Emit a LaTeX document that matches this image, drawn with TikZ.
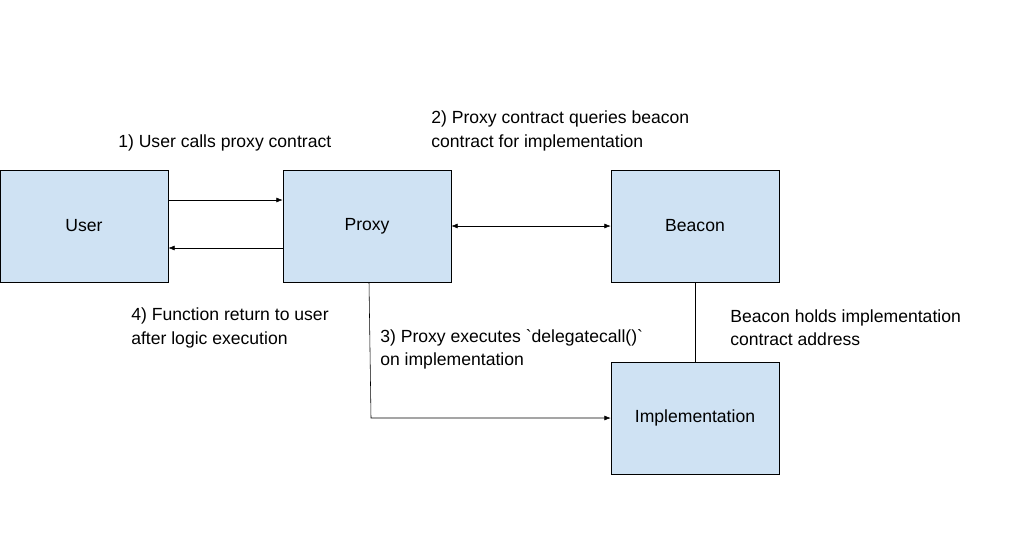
\documentclass[tikz,border=0pt]{standalone}
\usepackage{fontspec}
\setmainfont{Liberation Sans}
\usetikzlibrary{arrows.meta}
\begin{document}
\begin{tikzpicture}[x=0.025cm,y=-0.025cm,
    box/.style={draw=black, line width=0.4pt, fill=boxblue, minimum width=168*0.025cm, minimum height=112*0.025cm, font=\fontsize{12.5}{15}\selectfont},
    lbl/.style={anchor=west, align=left, inner sep=0pt, font=\fontsize{12.5}{16.5}\selectfont},
    arr/.style={-{Latex[length=4.5pt,width=3.5pt]}, line width=0.4pt}]
    \definecolor{boxblue}{HTML}{cfe2f3}
    \useasboundingbox (0,0) rectangle (1024,559);

    \node[box] (user) at (84,226) {User};
    \node[box] (proxy) at (367,226) {Proxy};
    \node[box] (beacon) at (695,226) {Beacon};
    \node[box] (impl) at (695,418) {Implementation};

    \node[lbl] (l1) at (118,143) {1) User calls proxy contract};
    \node[lbl] (l2) at (431,131) {2) Proxy contract queries beacon\\contract for implementation};
    \node[lbl] (l4) at (131,328) {4) Function return to user\\after logic execution};
    \node[lbl] (l3) at (380,349) {3) Proxy executes \textasciigrave delegatecall()\textasciigrave\\on implementation};
    \node[lbl] (l5) at (730,328) {Beacon holds implementation\\contract address};

    \draw[arr] (user.east |- 0,200) -- (proxy.west |- 0,200);
    \draw[arr] (proxy.west |- 0,248) -- (user.east |- 0,248);
    \draw[arr, {Latex[length=4.5pt,width=3.5pt]}-{Latex[length=4.5pt,width=3.5pt]}] (proxy) -- (beacon);
    \draw[arr] (proxy.south -| 369,0) -- (371,418) -- (impl.west);
    \draw[line width=0.4pt] (beacon) -- (impl);
\end{tikzpicture}
\end{document}
